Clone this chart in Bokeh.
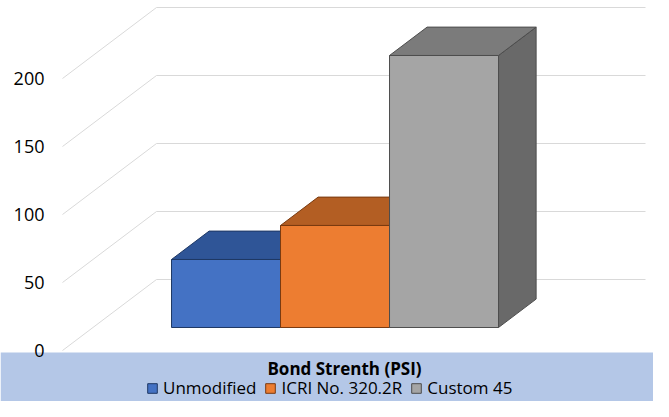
from bokeh.plotting import figure
from bokeh.models import ColumnDataSource, Legend, LegendItem, Range1d
from bokeh.core.properties import value
from bokeh.embed import file_html
from bokeh.resources import INLINE

# ---- data ----
categories = ["Unmodified", "ICRI No. 320.2R", "Custom 45"]
bond_strength = [50, 75, 200]
tick_values = [0, 50, 100, 150, 200]
tick_labels = ["0", "50", "100", "150", "200"]
title_text = "Bond Strenth (PSI)"

# ---- style ----
front_colors = ["#4472C4", "#ED7D31", "#A5A5A5"]
top_colors = ["#2F5597", "#B35E23", "#7B7B7B"]
side_colors = ["#264478", "#9E480E", "#696969"]
edge_colors = ["#1F3864", "#7A3A10", "#4D4D4D"]
BAND = "#B4C7E7"
GRID = "#D9D9D9"
FONT = "Open Sans"

W, H = 653, 401
PX_X = 109.0      # pixels per category unit
PX_Y = 1.36       # pixels per value unit
X0 = -1.069       # data x at left edge of figure
Y_ZERO_PX = 350   # figure pixel row of value 0 (front plane)

def fx(px):       # figure pixel column -> data x
    return X0 + px / PX_X

def fy(py):       # figure pixel row -> data y
    return (Y_ZERO_PX - py) / PX_Y

# oblique depth of the walls
DX = 94 / PX_X
DY = 71 / PX_Y
Z0, ZD = 0.324, 0.40          # bar front depth and bar depth (fractions)
BASE = Z0 * DY
BDX, BDY = ZD * DX, ZD * DY
XL = fx(62)                   # front-left corner of walls
XR = fx(645)                  # right end of back wall

p = figure(width=W, height=H, output_backend="svg", toolbar_location=None,
           x_range=Range1d(fx(0), fx(W)), y_range=Range1d(fy(H), fy(0)),
           min_border=0, min_border_left=0, min_border_right=0,
           min_border_top=0, min_border_bottom=0)
p.xaxis.visible = False
p.yaxis.visible = False
p.xgrid.visible = False
p.ygrid.visible = False
p.outline_line_color = None
p.background_fill_color = "white"
p.border_fill_color = "white"

# bottom band
p.quad(left=fx(0), right=fx(W), bottom=fy(H), top=fy(352), fill_color=BAND,
       line_color=None)

# gridlines: side wall diagonal + back wall horizontal
gx, gy = [], []
for t in tick_values:
    gx.append([XL, XL + DX, XR])
    gy.append([t, t + DY, t + DY])
p.multi_line(gx, gy, line_color=GRID, line_width=1)

# tick labels
p.text(x=[fx(44)] * len(tick_values), y=tick_values, text=tick_labels,
       text_font=value(FONT), text_font_size="18px", text_color="#000000",
       text_align="right", text_baseline="middle")

# bars
xs_f, ys_f, xs_t, ys_t, xs_s, ys_s = [], [], [], [], [], []
for i, v in enumerate(bond_strength):
    c = i + 1
    l, r = c - 0.5, c + 0.5
    b, t = BASE, BASE + v
    xs_f.append([l, r, r, l]); ys_f.append([b, b, t, t])
    xs_t.append([l, r, r + BDX, l + BDX]); ys_t.append([t, t, t + BDY, t + BDY])
    xs_s.append([r, r + BDX, r + BDX, r]); ys_s.append([b, b + BDY, t + BDY, t])

p.patches(xs_s, ys_s, fill_color=side_colors, line_color=edge_colors, line_width=1)
p.patches(xs_t, ys_t, fill_color=top_colors, line_color=edge_colors, line_width=1)
front = p.patches(xs_f, ys_f, fill_color=front_colors, line_color=edge_colors,
                  line_width=1)

# axis title
p.text(x=[fx(344)], y=[fy(368)], text=[title_text], text_font=value(FONT),
       text_font_size="17px", text_font_style="bold", text_color="#000000",
       text_align="center", text_baseline="middle")

legend = Legend(items=[LegendItem(label=categories[i], renderers=[front], index=i)
                       for i in range(len(categories))],
                orientation="horizontal", location=(146, 2),
                glyph_width=12, glyph_height=12, label_height=14,
                label_standoff=5, spacing=8, padding=0, margin=0,
                label_text_font=FONT, label_text_font_size="17px",
                label_text_color="#000000",
                background_fill_alpha=0, border_line_color=None)
p.add_layout(legend, "center")

open("out.html", "w").write(file_html(p, INLINE))
